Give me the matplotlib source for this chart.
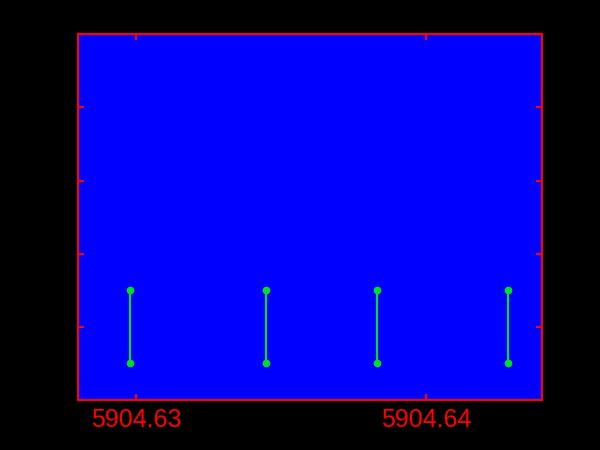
import matplotlib
matplotlib.use("Agg")
import matplotlib.pyplot as plt

x_values = [5904.629793, 5904.634483, 5904.638310, 5904.642828]
y_low = [0.5, 0.5, 0.5, 0.5]
y_high = [1.5, 1.5, 1.5, 1.5]
x_ticks = [5904.63, 5904.64]
x_tick_labels = ["5904.63", "5904.64"]
y_ticks = [0, 1, 2, 3, 4, 5]

plt.rcParams['font.family'] = ['Liberation Sans', 'DejaVu Sans']
fig = plt.figure(figsize=(6, 4.5), dpi=100, facecolor='black')
ax = fig.add_axes([0.13, 0.111, 0.773, 0.813])
ax.set_facecolor('#0000ff')

for x, y0, y1 in zip(x_values, y_low, y_high):
    ax.plot([x, x], [y0, y1], color='#00e020', lw=1.5, marker='o', ms=4.5)

ax.set_xlim(5904.628, 5904.644)
ax.set_ylim(0, 5)
ax.set_xticks(x_ticks)
ax.set_xticklabels(x_tick_labels)
ax.set_yticks(y_ticks)
ax.set_yticklabels([str(v) for v in y_ticks])
for s in ax.spines.values():
    s.set_color('red')
    s.set_linewidth(1.5)
ax.tick_params(axis='both', direction='in', colors='red', length=4, width=1.5,
               top=True, right=True, labelsize=18)
ax.tick_params(axis='y', labelcolor='black')
ax.tick_params(axis='x', pad=6)

fig.savefig('out.png', dpi=100, facecolor='black')
